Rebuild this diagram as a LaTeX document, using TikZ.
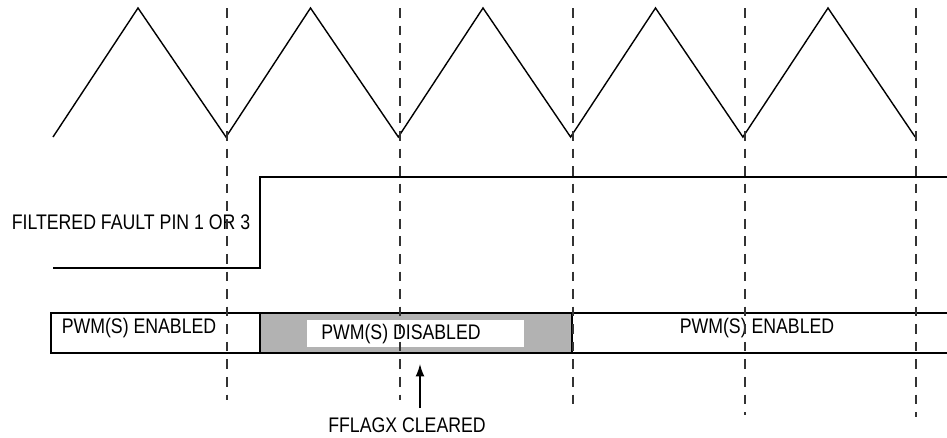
\documentclass[tikz,border=0pt]{standalone}
\usepackage{fontspec}
\setmainfont{Liberation Sans}[FakeStretch=0.84]
\usepackage{tikz}
\usetikzlibrary{positioning,arrows.meta,calc}

\begin{document}
\begin{tikzpicture}[x=0.02cm, y=-0.02cm,
                    wave/.style={line width=0.8pt, black},
                    grid/.style={line width=0.6pt, black!80, dash pattern=on 5.5pt off 4.5pt},
                    lbl/.style={font=\fontsize{12}{14}\selectfont, inner sep=0pt},
                    bar/.style={line width=0.8pt, draw=black}]
    \useasboundingbox (0,0) rectangle (947,437);

    % PWM state bar
    \filldraw[bar, fill=white] (51,313) rectangle (260,353);
    \filldraw[bar, fill=black!30] (260,313) rectangle (572,353);
    \fill[white] (307,320) rectangle (524,347);
    \draw[bar] (947,313) -- (572,313) -- (572,353) -- (947,353);
    \node[lbl] (en1) at (139,328) {PWM(S) ENABLED};
    \node[lbl] (dis) at (401,334) {PWM(S) DISABLED};
    \node[lbl] (en2) at (757,328) {PWM(S) ENABLED};

    % Carrier (triangle)
    \draw[wave] (53,137)
        \foreach \k in {0,...,4} { -- ({138+172.5*\k},8) -- ({226+172.3*\k},137) };

    % Fault input
    \draw[wave] (53,268) -- (260,268) -- (260,177) -- (947,177);
    \node[lbl] (fault) at (131,222) {FILTERED FAULT PIN 1 OR 3};

    % Valley markers
    \foreach \xv/\yb in {227/400, 400/400, 573/410, 745/415, 916/417}
        \draw[grid] (\xv,8) -- (\xv,\yb);

    % Flag cleared
    \node[lbl] (clr) at (407,425) {FFLAGX CLEARED};
    \coordinate (tail) at (420,408);
    \coordinate (tip) at (420,364);
    \draw[-{Latex[length=7pt,width=5pt]}, line width=0.8pt] (tail) -- (tip);
\end{tikzpicture}
\end{document}
